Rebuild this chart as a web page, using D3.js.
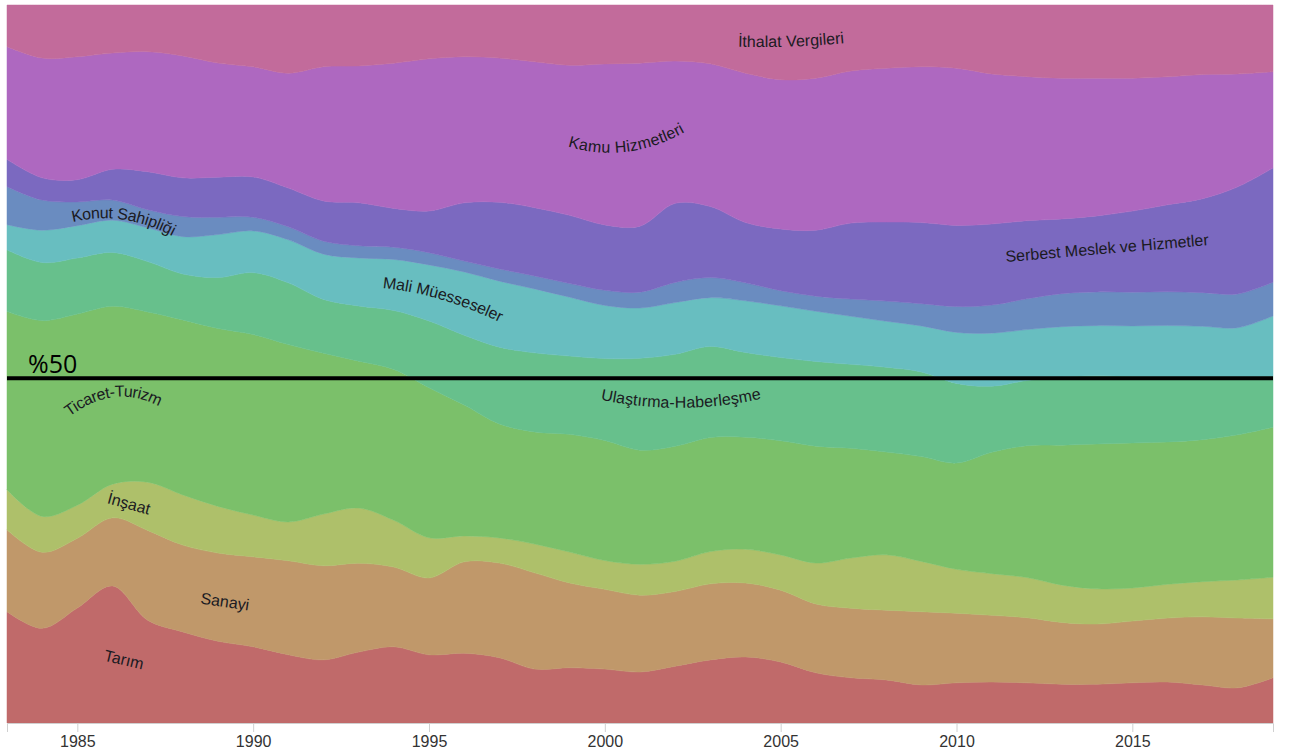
<!DOCTYPE html>
<html>
<head>
<meta charset="utf-8">
<script src="https://cdn.jsdelivr.net/npm/d3@7"></script>
<style>
  body { margin: 0; background: #fff; }
  svg { display: block; }
</style>
</head>
<body>
<svg id="canvas" width="1293" height="755"></svg>
<script>
// years on the x axis
let years = [1983,1984,1985,1986,1987,1988,1989,1990,1991,1992,1993,1994,1995,1996,1997,1998,1999,2000,
             2001,2002,2003,2004,2005,2006,2007,2008,2009,2010,2011,2012,2013,2014,2015,2016,2017,2018,2019]

// sector shares (%), bottom layer first
let tarim     = [15.5,13.2,16.0,19.1,14.3,12.7,11.4,10.6,9.5,8.8,9.9,10.6,9.5,9.7,9.1,7.5,7.7,7.5,7.1,7.9,8.8,9.2,8.5,7.0,6.3,6.0,5.3,5.6,5.7,5.6,5.4,5.4,5.6,5.7,5.3,4.9,6.3]
let sanayi    = [11.4,10.6,9.7,9.5,12.5,12.1,12.3,12.5,13.1,13.1,12.4,11.1,10.7,12.7,13.2,13.4,11.8,11.1,10.7,10.4,10.6,10.3,10.0,9.6,9.7,9.7,10.2,9.7,9.3,9.1,8.6,8.4,8.6,8.9,9.5,9.7,8.2]
let insaat    = [5.6,5.0,4.6,4.7,6.7,7.0,6.5,5.8,5.4,7.2,7.7,6.5,5.6,3.6,3.5,4.0,4.3,4.0,4.3,4.2,4.5,4.7,4.9,5.7,7.0,7.7,7.0,6.1,5.8,5.6,5.2,4.9,4.6,4.7,4.9,5.3,5.8]
let ticaret   = [24.8,27.3,26.6,24.8,23.7,24.4,24.8,25.1,24.7,22.4,20.5,21.0,20.9,18.2,15.9,15.6,16.4,16.7,15.9,16.0,15.9,15.6,15.9,16.3,15.3,14.3,14.6,14.8,16.9,18.4,19.5,20.2,20.2,19.8,19.8,20.2,20.9]
let ulastirma = [8.6,8.1,7.8,7.5,7.0,6.4,7.1,8.6,8.6,7.5,7.7,8.2,9.3,9.7,10.7,11.0,10.9,11.4,12.8,12.8,12.7,11.8,11.6,11.8,11.7,11.8,11.8,11.1,9.2,9.1,9.5,9.5,9.3,9.1,8.8,8.1,7.1]
let mali      = [3.5,4.5,4.5,4.5,4.7,5.2,6.0,5.8,6.0,6.3,6.7,7.1,7.8,8.8,9.2,8.9,8.2,7.4,7.0,7.2,6.8,7.2,7.2,7.0,6.7,6.4,6.4,7.1,7.4,7.1,7.0,7.0,7.0,7.1,7.0,6.8,8.4]
let konut     = [5.3,4.2,3.3,2.8,2.5,2.8,2.4,1.9,1.8,1.8,1.7,1.7,1.7,1.5,1.7,1.8,1.9,2.1,2.2,2.8,2.8,2.5,2.1,2.1,2.4,2.8,3.1,3.6,3.9,4.3,4.6,4.7,4.7,4.7,4.7,4.7,4.7]
let serbest   = [3.8,3.1,3.1,4.3,5.3,5.4,5.6,5.6,5.4,5.6,6.0,5.4,5.8,8.1,9.3,9.5,9.5,9.1,9.2,11.0,9.9,8.4,8.6,9.2,10.6,11.0,11.3,11.3,11.3,10.9,10.4,10.6,11.3,12.1,13.1,14.9,15.9]
let kamu      = [15.7,16.7,17.1,16.2,16.7,17.0,15.9,15.3,16.0,18.7,19.1,20.2,21.2,20.3,20.1,20.3,20.9,22.4,22.7,19.8,19.9,20.8,20.8,21.2,21.2,21.4,21.7,21.9,20.9,20.1,19.6,19.2,18.5,17.8,17.3,15.7,13.4]
let ithalat   = [5.8,7.4,7.2,6.7,6.5,7.1,8.1,8.6,9.5,8.6,8.5,8.1,7.5,7.2,7.4,7.9,8.4,8.2,8.1,7.8,8.2,9.5,10.4,10.2,9.2,8.8,8.6,8.8,9.6,10.0,10.2,10.2,10.2,10.0,9.7,9.6,9.3]

let sectorNames = ['Tarım','Sanayi','İnşaat','Ticaret-Turizm','Ulaştırma-Haberleşme','Mali Müesseseler',
                   'Konut Sahipliği','Serbest Meslek ve Hizmetler','Kamu Hizmetleri','İthalat Vergileri']
let sectorValues = [tarim, sanayi, insaat, ticaret, ulastirma, mali, konut, serbest, kamu, ithalat]
let sectorColors = ['#c06a6a','#c0986a','#aec06a','#7bc06a','#67c08c','#68bec0','#6a8cc0','#7b69c0','#ae68c0','#c26b9b']

let tickYears = [1985,1990,1995,2000,2005,2010,2015]
let refLevel = 0.48   // where the "%50" line sits in the picture
let refText = '%50'

let canvas = d3.select('#canvas')

let plotLeft = 7, plotRight = 1273, plotTop = 5, plotBottom = 723

// rows for d3.stack
let rows = years.map((year, i) => {
    let row = {year: year}
    sectorNames.forEach((name, k) => { row[name] = sectorValues[k][i] })
    return row
})

let stack = d3.stack()
    .keys(sectorNames)
    .offset(d3.stackOffsetExpand)
let layers = stack(rows)

let xScale = d3.scaleLinear()
    .domain([d3.min(years), d3.max(years)])
    .range([plotLeft, plotRight])

let yScale = d3.scaleLinear()
    .domain([0, 1])
    .range([plotBottom, plotTop])

// smooth bands, passing through each yearly value
let area = d3.area()
    .x((d) => xScale(d.data.year))
    .y0((d) => yScale(d[0]))
    .y1((d) => yScale(d[1]))
    .curve(d3.curveCatmullRom.alpha(0.5))

canvas.append('g')
    .selectAll('path')
    .data(layers)
    .enter()
    .append('path')
    .attr('d', area)
    .attr('fill', (layer, i) => sectorColors[i])
    .attr('stroke', (layer, i) => sectorColors[i])
    .attr('stroke-width', 0.5)

// x axis
let xAxis = d3.axisBottom(xScale)
    .tickValues(tickYears)
    .tickFormat(d3.format('d'))
    .tickSize(9)
    .tickPadding(4)

let axisG = canvas.append('g')
    .attr('transform', 'translate(0,' + plotBottom + ')')
    .call(xAxis)
axisG.select('.domain').attr('stroke', '#d0d0d0')
axisG.selectAll('.tick line').attr('stroke', '#d0d0d0')
axisG.selectAll('.tick text')
    .attr('fill', '#333')
    .style('font-family', '"Liberation Sans", Arial, sans-serif')
    .style('font-size', '16px')

// labels placed along little curves that follow the bands
let labelPaths = [
    {name: 'Tarım',                       d: 'M92,652 L156,667'},
    {name: 'Sanayi',                      d: 'M188,596 L262,607'},
    {name: 'İnşaat',                      d: 'M98,495 L160,512'},
    {name: 'Ticaret-Turizm',              d: 'M60,417 Q114,372 168,405'},
    {name: 'Ulaştırma-Haberleşme',        d: 'M596,393 Q680,412 766,392'},
    {name: 'Mali Müesseseler',            d: 'M377,282 Q442,287 508,320'},
    {name: 'Konut Sahipliği',             d: 'M66,218 Q123,202 180,234'},
    {name: 'Kamu Hizmetleri',             d: 'M563,139 Q625,161 688,124'},
    {name: 'Serbest Meslek ve Hizmetler', d: 'M999,257 L1215,239'},
    {name: 'İthalat Vergileri',           d: 'M733,41 Q790,43 849,37'}
]

let defs = canvas.append('defs')
labelPaths.forEach((lab, i) => {
    defs.append('path').attr('id', 'lp' + i).attr('d', lab.d)
})

canvas.append('g')
    .selectAll('text')
    .data(labelPaths)
    .enter()
    .append('text')
    .attr('dy', '0.35em')
    .style('font-family', '"Liberation Sans", Arial, sans-serif')
    .style('font-size', '16px')
    .attr('fill', '#1a1a22')
    .append('textPath')
    .attr('href', (lab, i) => '#lp' + i)
    .attr('startOffset', '50%')
    .attr('text-anchor', 'middle')
    .text((lab) => lab.name)

// the half line
canvas.append('line')
    .attr('x1', plotLeft)
    .attr('x2', plotRight)
    .attr('y1', yScale(refLevel))
    .attr('y2', yScale(refLevel))
    .attr('stroke', '#000')
    .attr('stroke-width', 4)

canvas.append('text')
    .attr('x', 28)
    .attr('y', yScale(refLevel) - 5)
    .style('font-family', '"Open Sans", sans-serif')
    .style('font-size', '25px')
    .attr('fill', '#000')
    .text(refText)
</script>
</body>
</html>
